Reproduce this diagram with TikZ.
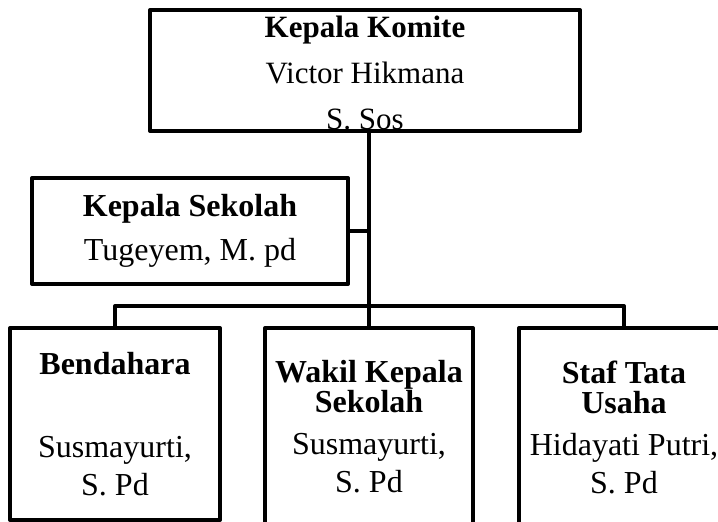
\documentclass[tikz,border=0pt]{standalone}
\usepackage{fontspec}
\setmainfont{Liberation Serif}

\begin{document}
\begin{tikzpicture}[x=1pt,y=-1pt,line width=4pt,line join=round,
  kotak/.style={draw, rectangle, inner sep=0pt, align=center}]
\useasboundingbox (0,0) rectangle (718,522);
\clip (0,0) rectangle (718,522);
% Susunan pengurus
\node[kotak, minimum width=430pt, minimum height=121pt, font=\fontsize{31}{46}\selectfont] (komite) at (365,70.5) {\rule{0pt}{26pt}\textbf{Kepala Komite}\\Victor Hikmana\\S. Sos};
\node[kotak, minimum width=316pt, minimum height=106pt, font=\fontsize{32}{44}\selectfont] (sekolah) at (190,231) {\textbf{Kepala Sekolah}\\Tugeyem, M. pd};

\node[kotak, minimum width=210pt, minimum height=192pt, font=\fontsize{32}{36}\selectfont] (bendahara) at (115,424) {\textbf{Bendahara}\\[47pt]Susmayurti,\\[2pt]S. Pd};
\node[kotak, minimum width=208pt, minimum height=198pt, font=\fontsize{32}{36}\selectfont] (wakil) at (369,427) {\textbf{Wakil Kepala}\\[-6pt]\textbf{Sekolah}\\[6pt]Susmayurti,\\[2pt]S. Pd};
\node[kotak, minimum width=210pt, minimum height=198pt, font=\fontsize{32}{36}\selectfont] (staf) at (624,427) {\textbf{Staf Tata}\\[-6pt]\textbf{Usaha}\\[6pt]Hidayati Putri,\\[2pt]S. Pd};

% Garis penghubung
\coordinate (simpang) at (369,306);
\draw (komite.south -| wakil.north) -- (wakil.north);
\draw (sekolah.east) -- (sekolah.east -| wakil.north);
\draw (bendahara.north) |- (simpang) -| (staf.north);
\end{tikzpicture}
\end{document}
